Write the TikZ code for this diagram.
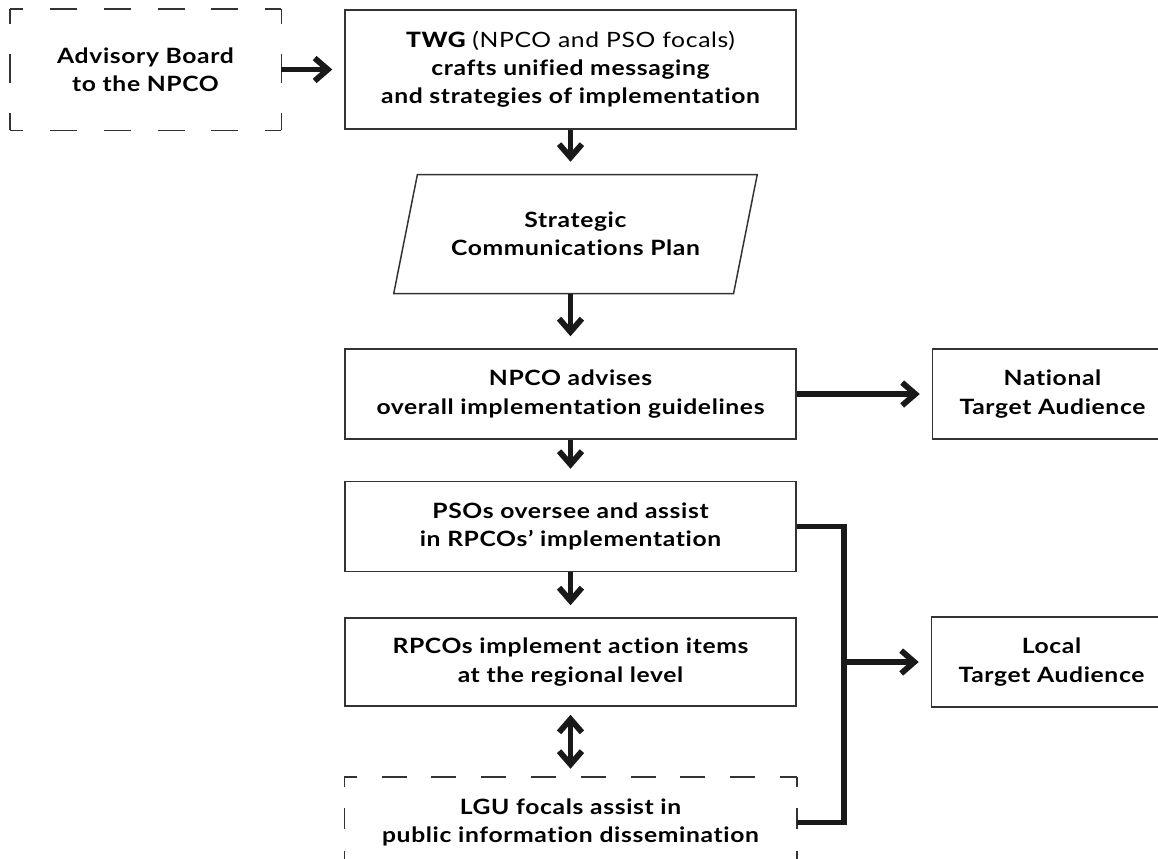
\documentclass[tikz,border=0pt]{standalone}
\usepackage{fontspec}
\setmainfont{Lato}[Ligatures=NoCommon, FakeStretch=1.17, LetterSpace=3]
\newfontfamily\boldlato{Lato Bold}[Ligatures=NoCommon, FakeStretch=1.17, LetterSpace=3]
\newfontfamily\heavylato{Lato Heavy}[Ligatures=NoCommon, FakeStretch=1.17, LetterSpace=3]
\usetikzlibrary{shapes.geometric, arrows.meta, positioning}

\begin{document}
\begin{tikzpicture}[
  node distance=0.9cm and 2.7cm,
  box/.style={rectangle, draw=black!80, line width=0.85pt, minimum width=9.02cm, minimum height=1.8cm,
               inner sep=0pt, align=center, font=\boldlato\fontsize{12}{16}\selectfont},
  dashbox/.style={box, draw=none},
  dashedge/.style 2 args={line width=0.85pt, black!80, dash pattern=on #1 off #1, dash phase=#2},
  side/.style={box, minimum width=4.8cm},
  plan/.style={trapezium, trapezium left angle=67, trapezium right angle=113, trapezium stretches=true,
               draw=black!80, line width=0.85pt, minimum width=7.28cm, minimum height=2.38cm,
               inner sep=0pt, align=center, font=\boldlato\fontsize{12}{16}\selectfont},
  arrow/.style={-{Straight Barb[length=7.5pt, width=13pt]}, line width=3.3pt, black!90, shorten >=0.24cm},
  twoway/.style={{Straight Barb[length=7.5pt, width=13pt]}-{Straight Barb[length=7.5pt, width=13pt]},
                 line width=3.3pt, black!90, shorten >=0.16cm, shorten <=0.16cm},
  link/.style={line width=3.3pt, black!90}
]
  \useasboundingbox (0,0) rectangle (23.16,-17.16);

  \node[box, minimum height=2.38cm] (twg) at (11.41,-1.39)
    {{\heavylato TWG} {\rmfamily (NPCO and PSO focals)}\\crafts unified messaging\\and strategies of implementation};
  \node[dashbox, minimum width=5.4cm, minimum height=2.4cm, left=1.26cm of twg] (board) {Advisory Board\\to the NPCO};
  \node[plan, below=0.88cm of twg, xshift=0.1cm] (plan) {Strategic\\Communications Plan};
  \node[box, below=1.08cm of plan, xshift=-0.1cm] (npco) {NPCO advises\\overall implementation guidelines};
  \node[side, right=of npco] (national) {National\\Target Audience};
  \node[box, below=0.82cm of npco] (pso) {PSOs oversee and assist\\in RPCOs’ implementation};
  \node[box, minimum height=1.76cm, below=0.9cm of pso] (rpco) {RPCOs implement action items\\at the regional level};
  \node[side, right=2.68cm of rpco] (local) {Local\\Target Audience};
  \node[dashbox, below=1.4cm of rpco] (lgu) {LGU focals assist in\\public information dissemination};

  % dashed borders, one edge at a time so the corners stay closed
  \draw[dashedge={15.3pt}{7.65pt}] (board.north west) -- (board.north east);
  \draw[dashedge={15.3pt}{7.65pt}] (board.south west) -- (board.south east);
  \draw[dashedge={17pt}{8.5pt}] (board.north west) -- (board.south west);
  \draw[dashedge={17pt}{8.5pt}] (board.north east) -- (board.south east);
  \draw[dashedge={14.17pt}{7.09pt}] (lgu.north west) -- (lgu.north east);
  \draw[dashedge={12pt}{6pt}] (lgu.north west) -- (lgu.south west);
  \draw[dashedge={12pt}{6pt}] (lgu.north east) -- (lgu.south east);

  \draw[arrow] (board) -- (twg);
  \draw[arrow] (twg) -- (twg |- plan.north);
  \draw[arrow] (npco |- plan.south) -- (npco);
  \draw[arrow] (npco) -- (national);
  \draw[arrow] (npco) -- (pso);
  \draw[arrow] (pso) -- (rpco);
  \draw[twoway] (rpco) -- (lgu);
  \draw[link] (pso.east) -- ++(0.94cm,0) coordinate (bus) |- (lgu.east);
  \draw[arrow] (bus |- local.west) -- (local.west);
\end{tikzpicture}
\end{document}
